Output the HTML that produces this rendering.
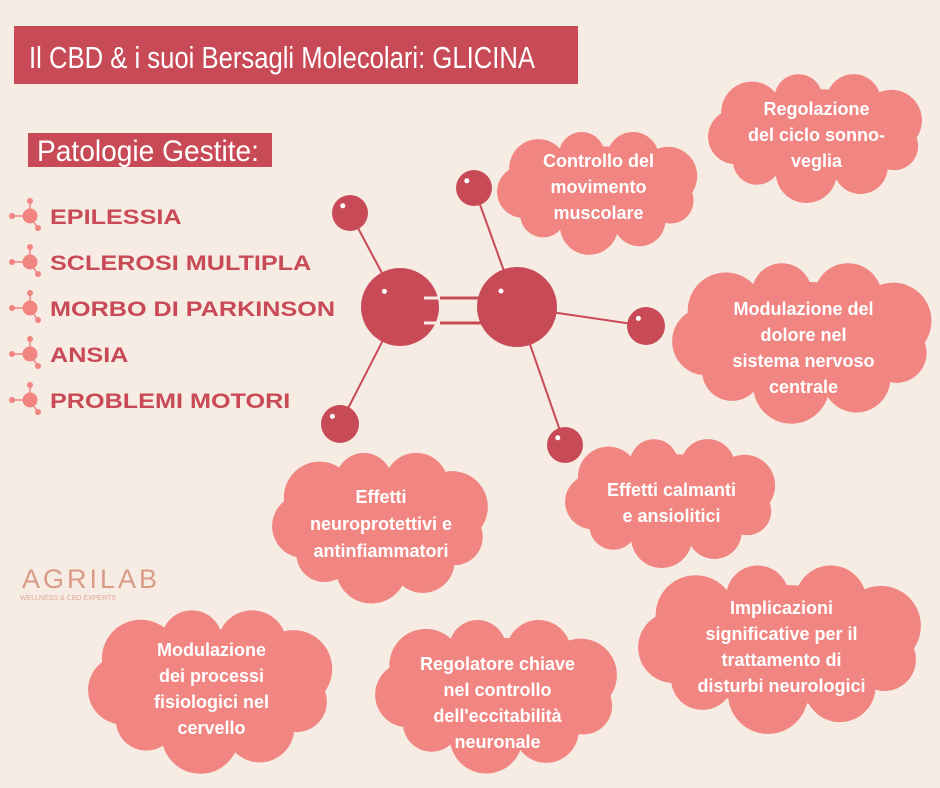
<!DOCTYPE html>
<html><head><meta charset="utf-8"><style>
html,body{margin:0;padding:0;background:#f7ece3;}
svg{display:block}
text{font-family:"Liberation Sans",sans-serif;}
</style></head><body>
<svg id="s" width="940" height="788" viewBox="0 0 940 788" xmlns="http://www.w3.org/2000/svg">
<rect width="940" height="788" fill="#f7ece3"/>
<rect x="14" y="26" width="564" height="58" fill="#c84a56"/>
<text x="29" y="68" font-size="31" fill="#fff" textLength="506" lengthAdjust="spacingAndGlyphs">Il CBD &amp; i suoi Bersagli Molecolari: GLICINA</text>
<rect x="28" y="133" width="244" height="34" fill="#c84a56"/>
<text x="37" y="161" font-size="30" fill="#fff" textLength="222" lengthAdjust="spacingAndGlyphs">Patologie Gestite:</text>
<g id="list"></g>
<g id="mol"></g>
<g id="clouds"></g>
<text x="22" y="588" font-size="27" fill="#d99a88" letter-spacing="3">AGRILAB</text>
<text x="20" y="600" font-size="7" fill="#e0a898">WELLNESS &amp; CBD EXPERTS</text>
</svg>
<script>
const NS="http://www.w3.org/2000/svg";
function el(p,t,a,txt){const e=document.createElementNS(NS,t);for(const k in a)e.setAttribute(k,a[k]);if(txt)e.textContent=txt;p.appendChild(e);return e;}
const L=document.getElementById('list');
const items=[["EPILESSIA",224],["SCLEROSI MULTIPLA",270],["MORBO DI PARKINSON",316],["ANSIA",362],["PROBLEMI MOTORI",408]];
items.forEach(([t,y])=>{
 const c=y-8;
 el(L,'line',{x1:12,y1:c,x2:30,y2:c,stroke:'#f08582','stroke-width':1.5});
 el(L,'line',{x1:30,y1:c-14,x2:30,y2:c,stroke:'#f08582','stroke-width':1.5});
 el(L,'line',{x1:30,y1:c,x2:37,y2:c+11,stroke:'#f08582','stroke-width':1.5});
 el(L,'circle',{cx:12,cy:c,r:3,fill:'#f08582'});
 el(L,'circle',{cx:30,cy:c-15,r:3,fill:'#f08582'});
 el(L,'circle',{cx:38,cy:c+12,r:3,fill:'#f08582'});
 el(L,'circle',{cx:30,cy:c,r:7.5,fill:'#f08582'});
 el(L,'text',{x:0,y:0,transform:`translate(50 ${y}) scale(1.2 1)`,'font-size':21,fill:'#c84a56','font-weight':'bold'},t);
});
const M=document.getElementById('mol');
const red='#c84a56';
const bonds=[[400,307,350,213],[517,307,474,188],[517,307,646,326],[400,307,340,424],[517,307,565,445]];
bonds.forEach(b=>el(M,'line',{x1:b[0],y1:b[1],x2:b[2],y2:b[3],stroke:red,'stroke-width':2}));
el(M,'line',{x1:420,y1:298,x2:500,y2:298,stroke:red,'stroke-width':3});
el(M,'line',{x1:420,y1:323,x2:500,y2:323,stroke:red,'stroke-width':3});
[[400,307,39],[517,307,40],[350,213,18],[474,188,18],[646,326,19],[340,424,19],[565,445,18]].forEach(c=>{
 el(M,'circle',{cx:c[0],cy:c[1],r:c[2],fill:red});
 el(M,'circle',{cx:c[0]-c[2]*0.4,cy:c[1]-c[2]*0.4,r:2.5,fill:'#fff'});
});
el(M,'line',{x1:424,y1:298,x2:440,y2:298,stroke:'#f7ece3','stroke-width':3});
el(M,'line',{x1:424,y1:323,x2:440,y2:323,stroke:'#f7ece3','stroke-width':3});
const C=document.getElementById('clouds');
const col='#f08582';
function cloud(x0,y0,x1,y1,lines,fs,ty,lh){
 const cx=(x0+x1)/2,cy=(y0+y1)/2,rx=(x1-x0)/2,ry=(y1-y0)/2;
 const g=el(C,'g',{fill:col});
 const n=9,br=Math.min(rx,ry)*0.42;
 el(g,'ellipse',{cx,cy,rx:rx-br*0.7,ry:ry-br*0.7});
 for(let i=0;i<n;i++){const a=i/n*2*Math.PI+0.3;
  el(g,'circle',{cx:cx+(rx-br)*Math.cos(a),cy:cy+(ry-br)*Math.sin(a),r:br*(1+0.12*((i%3)-1))});}
 lines.forEach((t,i)=>el(C,'text',{x:cx,y:ty+i*lh,'text-anchor':'middle','font-size':fs,'font-weight':'bold',fill:'#fff'},t));
}
cloud(497,128,700,252,["Controllo del","movimento","muscolare"],18,167,26);
cloud(708,70,925,200,["Regolazione","del ciclo sonno-","veglia"],18,115,26);
cloud(672,258,935,420,["Modulazione del","dolore nel","sistema nervoso","centrale"],18,315,26);
cloud(565,435,778,565,["Effetti calmanti","e ansiolitici"],18,496,26);
cloud(272,448,490,600,["Effetti","neuroprotettivi e","antinfiammatori"],18,503,27);
cloud(88,605,335,770,["Modulazione","dei processi","fisiologici nel","cervello"],18,656,26);
cloud(375,615,620,770,["Regolatore chiave","nel controllo","dell'eccitabilità","neuronale"],18,670,26);
cloud(638,560,925,730,["Implicazioni","significative per il","trattamento di","disturbi neurologici"],18,614,26);
</script>
</body></html>
